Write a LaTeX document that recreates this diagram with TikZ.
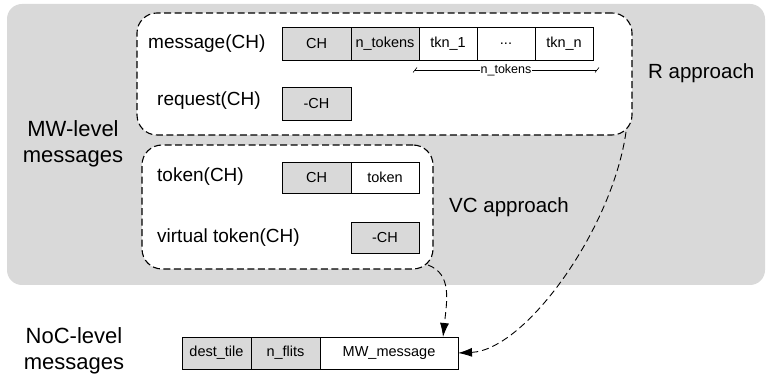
\documentclass[tikz,border=0pt]{standalone}
\usepackage{fontspec}
\setmainfont{Liberation Sans}
\usepackage{xcolor}
\usepackage{tikz}
\usetikzlibrary{arrows.meta}

\begin{document}
\begin{tikzpicture}[x=1pt,y=1pt,
  cell/.style={draw=drawColor,line width=0.9pt,anchor=south west,inner sep=0pt,outer sep=0pt,
    minimum height=33pt,font=\fontsize{14.5}{17}\selectfont},
  shaded/.style={cell,fill=boxColor},
  grp/.style={draw=drawColor,dash pattern=on 7pt off 3.5pt,line width=1.1pt,fill=white,
    rounded corners=20pt,inner sep=0pt,outer sep=0pt},
  rowlabel/.style={anchor=west,inner sep=0pt,font=\fontsize{19}{22}\selectfont},
  sidelabel/.style={align=center,inner sep=0pt,font=\fontsize{22}{26}\selectfont},
  conn/.style={draw=drawColor,dash pattern=on 7pt off 4pt,line width=0.9pt,
    -{Latex[length=14pt,width=9pt]}}]
\definecolor{fillColor}{RGB}{255,255,255}
\definecolor{bgColor}{RGB}{217,217,217}
\definecolor{boxColor}{RGB}{217,217,217}
\definecolor{drawColor}{RGB}{0,0,0}
\path[use as bounding box,fill=fillColor] (0,0) rectangle (768,380);

% background of the MW level
\path[fill=bgColor,rounded corners=15pt] (7,95) rectangle (765,376);

% the two groups
\node[grp,minimum width=495pt,minimum height=122pt] (rbox) at (384.5,306) {};
\node[grp,minimum width=291pt,minimum height=124pt] (vcbox) at (287.5,173) {};

% message(CH)
\node[rowlabel] (msglab) at (148,336) {message(CH)};
\node[shaded,minimum width=69pt] (msgch) at (282,320) {CH};
\node[shaded,minimum width=68pt] (msgn) at (351,320) {n\_tokens};
\node[cell,minimum width=58pt] (tkn1) at (419,320) {tkn\_1};
\node[cell,minimum width=58pt] (tkndots) at (477,320) {...};
\node[cell,minimum width=58pt] (tknn) at (535,320) {tkn\_n};

\coordinate (brl) at (415,310);
\coordinate (brr) at (597,310);
\path[draw=drawColor,line width=0.6pt] (brl) -- (brr);
\path[draw=drawColor,line width=0.6pt] ([shift={(-2,-2.5)}]brl) -- ([shift={(2,2.5)}]brl);
\path[draw=drawColor,line width=0.6pt] ([shift={(-2,-2.5)}]brr) -- ([shift={(2,2.5)}]brr);
\node[fill=white,inner sep=1pt,font=\fontsize{12.5}{14}\selectfont] (brlab) at (506,310) {n\_tokens};

% request(CH)
\node[rowlabel] (reqlab) at (157,279) {request(CH)};
\node[shaded,minimum width=69pt] (reqch) at (282,260) {-CH};

% token(CH)
\node[rowlabel] (toklab) at (157,203) {token(CH)};
\node[shaded,minimum width=69pt,minimum height=31pt] (tokch) at (282,187) {CH};
\node[cell,minimum width=68pt,minimum height=31pt] (tokval) at (351,187) {token};

% virtual token(CH)
\node[rowlabel] (vtoklab) at (157,142) {virtual token(CH)};
\node[shaded,minimum width=68pt,minimum height=31pt] (vtokch) at (351,127) {-CH};

% side labels
\node[anchor=west,inner sep=0pt,font=\fontsize{20.5}{24}\selectfont] (rlab) at (648,307) {R approach};
\node[anchor=west,inner sep=0pt,font=\fontsize{20.5}{24}\selectfont] (vclab) at (449,173) {VC approach};
\node[sidelabel] (mwlab) at (73,236) {MW-level\\messages};
\node[sidelabel] (noclab) at (74,29) {NoC-level\\messages};

% NoC-level message
\node[shaded,minimum width=69pt,minimum height=32pt] (dest) at (182,11) {dest\_tile};
\node[shaded,minimum width=69pt,minimum height=32pt] (nflits) at (251,11) {n\_flits};
\node[cell,minimum width=138pt,minimum height=32pt] (mwmsg) at (320,11) {MW\_message};

% connectors
\coordinate (rout) at ([shift={(-6,3)}]rbox.south east);
\coordinate (vcout) at ([shift={(-5,4)}]vcbox.south east);
\path[conn] (rout) .. controls (612,150) and (525,30) .. (mwmsg.east);
\path[conn] (vcout) .. controls (452,106) and (447,80) .. ([xshift=-15pt]mwmsg.north east);
\end{tikzpicture}
\end{document}
